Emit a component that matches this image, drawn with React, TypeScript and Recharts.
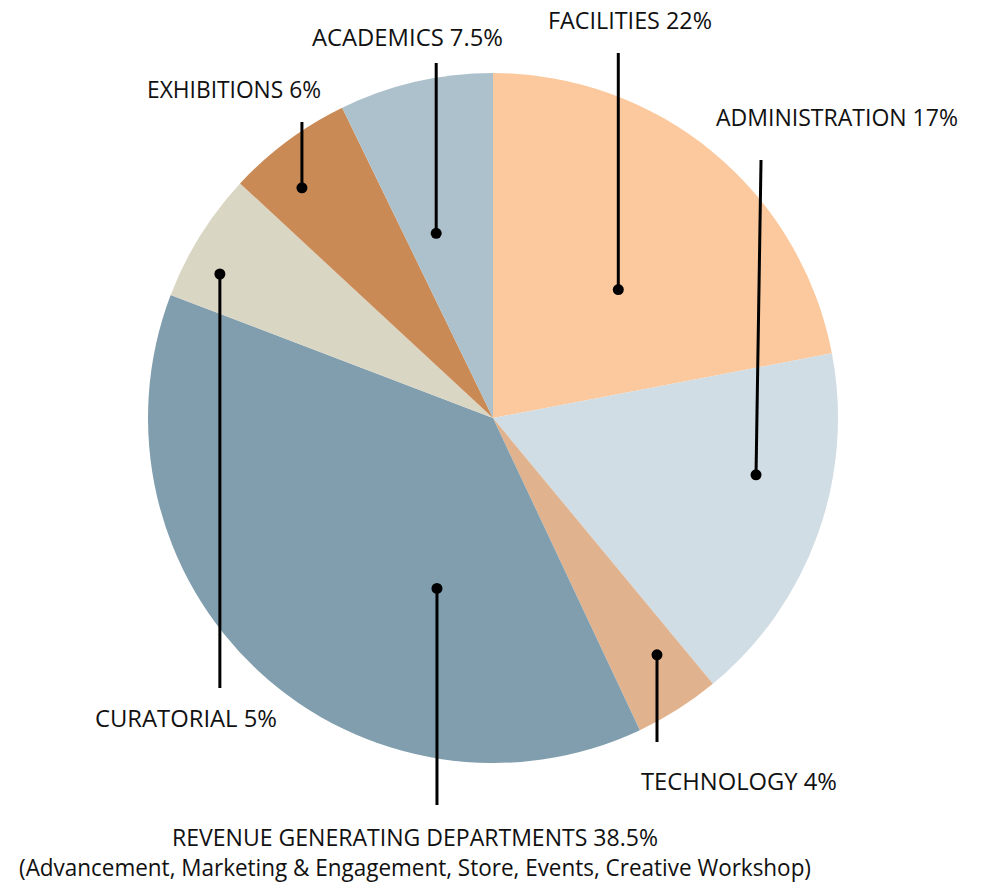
import React from "react";
import { PieChart, Pie, Cell } from "recharts";

const categories = [
  "FACILITIES",
  "ADMINISTRATION",
  "TECHNOLOGY",
  "REVENUE GENERATING DEPARTMENTS",
  "CURATORIAL",
  "EXHIBITIONS",
  "ACADEMICS",
];
// slice sizes as drawn in the picture
const shares = [22, 17, 4, 37.8, 6.1, 5.9, 7.2];
// percentages as printed in the labels
const shareLabels = ["22%", "17%", "4%", "38.5%", "5%", "6%", "7.5%"];
const subLabels = ["", "", "", "(Advancement, Marketing & Engagement, Store, Events, Creative Workshop)", "", "", ""];

const colors = ["#FBC99D", "#D0DDE4", "#E0B38E", "#809EAE", "#DAD6C4", "#CA8A56", "#ACC1CC"];

// label layout: dot polar position (deg clockwise from top, fraction of radius),
// leader line end (dx, dy from centre), text position (dx, dy from centre), anchor, text widths
const labelLayout = [
  { ang: 44.3, rf: 0.52, ex: 0, ey: -365, tx: 55, ty: -389, anchor: "start", w: 164, w2: 0 },
  { ang: 102.2, rf: 0.78, ex: 5, ey: -258, tx: 223, ty: -292, anchor: "start", w: 242, w2: 0 },
  { ang: 145.3, rf: 0.835, ex: 0, ey: 324, tx: 148, ty: 372, anchor: "start", w: 196, w2: 0 },
  { ang: 198.2, rf: 0.52, ex: 0, ey: 387, tx: -78, ty: 428, anchor: "middle", w: 486, w2: 792 },
  { ang: 297.8, rf: 0.895, ex: 0, ey: 270, tx: -398, ty: 309, anchor: "start", w: 182, w2: 0 },
  { ang: 320.3, rf: 0.867, ex: 0, ey: -296, tx: -346, ty: -320, anchor: "start", w: 174, w2: 0 },
  { ang: 342.9, rf: 0.56, ex: 0, ey: -355, tx: -181, ty: -372, anchor: "start", w: 191, w2: 0 },
];

const data = categories.map((name, i) => ({ name, value: shares[i] }));

const FONT = "'Open Sans', 'Noto Sans', sans-serif";

const renderLabel = (props: any) => {
  const { cx, cy, outerRadius, index } = props;
  const L = labelLayout[index];
  const rad = (L.ang * Math.PI) / 180;
  const r = outerRadius * L.rf;
  const dx = cx + r * Math.sin(rad);
  const dy = cy - r * Math.cos(rad);
  const lx = dx + L.ex;
  const ly = cy + L.ey;
  const text = `${categories[index]} ${shareLabels[index]}`;
  return (
    <g key={`lbl-${index}`}>
      <line x1={dx} y1={dy} x2={lx} y2={ly} stroke="#000" strokeWidth={3} />
      <circle cx={dx} cy={dy} r={5.5} fill="#000" />
      <text
        x={cx + L.tx}
        y={cy + L.ty}
        textAnchor={L.anchor}
        fontFamily={FONT}
        fontSize={24}
        fontWeight={400}
        fill="#111"
        textLength={L.w}
        lengthAdjust="spacingAndGlyphs"
      >
        {text}
      </text>
      {subLabels[index] ? (
        <text
          x={cx + L.tx}
          y={cy + L.ty + 30}
          textAnchor={L.anchor}
          fontFamily={FONT}
          fontSize={24}
          fontWeight={400}
          fill="#111"
          textLength={L.w2}
          lengthAdjust="spacingAndGlyphs"
        >
          {subLabels[index]}
        </text>
      ) : null}
    </g>
  );
};

export default function App() {
  return (
    <div style={{ position: "absolute", left: 0, top: 0, width: 982, height: 885, background: "#fff" }}>
      <PieChart width={982} height={885} margin={{ top: 0, right: 0, bottom: 0, left: 0 }}>
        <Pie
          data={data}
          dataKey="value"
          nameKey="name"
          cx={493}
          cy={418}
          outerRadius={345}
          startAngle={90}
          endAngle={-270}
          stroke="none"
          labelLine={false}
          label={renderLabel}
          isAnimationActive={false}
        >
          {data.map((d, i) => (
            <Cell key={d.name} fill={colors[i]} />
          ))}
        </Pie>
      </PieChart>
    </div>
  );
}
